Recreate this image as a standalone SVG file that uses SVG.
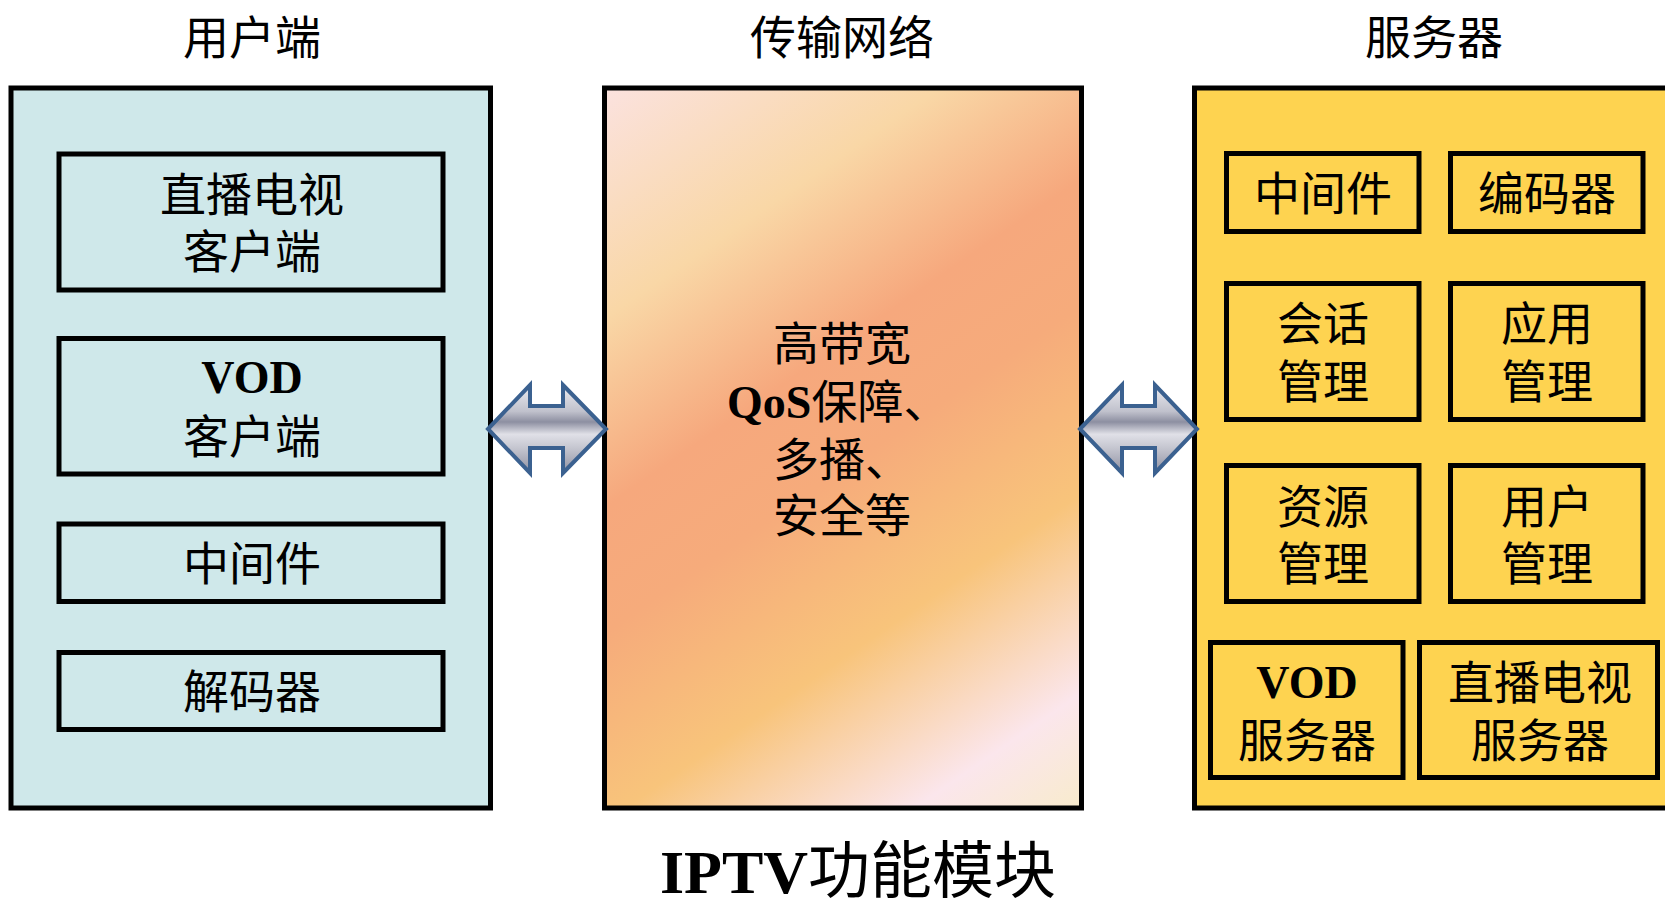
<svg xmlns="http://www.w3.org/2000/svg" width="1665" height="907" viewBox="0 0 1665 907">
  <style>
    .t { font-family: "Liberation Serif", "Noto Sans CJK SC", serif; font-size: 46px; fill: #000; text-anchor: middle; }
    .b { font-weight: bold; }
    .panel { stroke: #000; stroke-width: 5; }
    .box { stroke: #000; stroke-width: 5; }
    .cyan { fill: #cfe8ea; }
    .yellow { fill: #fed350; }
    .arrow { fill: url(#steel); stroke: #3b6190; stroke-width: 4; stroke-linejoin: miter; }
  </style>
  <defs>
    <linearGradient id="net" gradientUnits="userSpaceOnUse" x1="235" y1="342" x2="725" y2="1054">
      <stop offset="0" stop-color="#fbe2df"/>
      <stop offset="0.22" stop-color="#f9d7a6"/>
      <stop offset="0.40" stop-color="#f6a87d"/>
      <stop offset="0.52" stop-color="#f6ab7b"/>
      <stop offset="0.70" stop-color="#f8c47b"/>
      <stop offset="0.89" stop-color="#fbe6ec"/>
      <stop offset="1" stop-color="#f8ebcc"/>
    </linearGradient>
    <linearGradient id="steel" x1="0" y1="0" x2="0" y2="1">
      <stop offset="0" stop-color="#ececf1"/>
      <stop offset="0.3" stop-color="#c0c1cc"/>
      <stop offset="0.42" stop-color="#8d8fa1"/>
      <stop offset="0.56" stop-color="#e0e0e7"/>
      <stop offset="0.72" stop-color="#c4c5cf"/>
      <stop offset="1" stop-color="#8e90a1"/>
    </linearGradient>
  </defs>

  <rect width="1665" height="907" fill="#fff"/>

  <!-- Titles -->
  <g id="titles">
    <text class="t" x="252" y="54">用户端</text>
    <text class="t" x="842" y="54">传输网络</text>
    <text class="t" x="1434" y="54">服务器</text>
  </g>

  <!-- Client panel -->
  <g id="client">
    <rect class="panel cyan" x="11" y="88" width="479.5" height="720"/>
    <g id="client-live">
      <rect class="box cyan" x="59" y="154" width="384" height="136"/>
      <text class="t" x="252" y="211">直播电视</text>
      <text class="t" x="252" y="268">客户端</text>
    </g>
    <g id="client-vod">
      <rect class="box cyan" x="59" y="338.5" width="384" height="135.5"/>
      <text class="t b" x="252" y="393">VOD</text>
      <text class="t" x="252" y="453">客户端</text>
    </g>
    <g id="client-mw">
      <rect class="box cyan" x="59" y="524" width="384" height="77.5"/>
      <text class="t" x="252" y="580">中间件</text>
    </g>
    <g id="client-dec">
      <rect class="box cyan" x="59" y="652.5" width="384" height="77"/>
      <text class="t" x="252" y="708">解码器</text>
    </g>
  </g>

  <!-- Network panel -->
  <g id="network">
    <rect class="panel" fill="url(#net)" x="604.5" y="88" width="477" height="720"/>
    <text class="t" style="text-anchor:start" x="773" y="360">高带宽</text>
    <text class="t" style="text-anchor:start" x="727" y="418"><tspan class="b">QoS</tspan>保障、</text>
    <text class="t" style="text-anchor:start" x="773" y="476">多播、</text>
    <text class="t" style="text-anchor:start" x="773" y="532">安全等</text>
  </g>

  <!-- Server panel -->
  <g id="server">
    <rect class="panel yellow" x="1194.5" y="88" width="490" height="720"/>
    <g id="srv-mw">
      <rect class="box yellow" x="1226.5" y="153.5" width="192.5" height="78"/>
      <text class="t" x="1323" y="210">中间件</text>
    </g>
    <g id="srv-enc">
      <rect class="box yellow" x="1450.5" y="153.5" width="192.5" height="78"/>
      <text class="t" x="1547" y="210">编码器</text>
    </g>
    <g id="srv-session">
      <rect class="box yellow" x="1226.5" y="283.5" width="192.5" height="136"/>
      <text class="t" x="1323" y="340">会话</text>
      <text class="t" x="1323" y="398">管理</text>
    </g>
    <g id="srv-app">
      <rect class="box yellow" x="1450.5" y="283.5" width="192.5" height="136"/>
      <text class="t" x="1547" y="340">应用</text>
      <text class="t" x="1547" y="398">管理</text>
    </g>
    <g id="srv-res">
      <rect class="box yellow" x="1226.5" y="465.5" width="192.5" height="136"/>
      <text class="t" x="1323" y="523">资源</text>
      <text class="t" x="1323" y="580">管理</text>
    </g>
    <g id="srv-user">
      <rect class="box yellow" x="1450.5" y="465.5" width="192.5" height="136"/>
      <text class="t" x="1547" y="523">用户</text>
      <text class="t" x="1547" y="580">管理</text>
    </g>
    <g id="srv-vod">
      <rect class="box yellow" x="1210.5" y="642.5" width="192.5" height="135"/>
      <text class="t b" x="1307" y="698">VOD</text>
      <text class="t" x="1307" y="757">服务器</text>
    </g>
    <g id="srv-live">
      <rect class="box yellow" x="1419.5" y="642.5" width="238" height="135"/>
      <text class="t" x="1540" y="699">直播电视</text>
      <text class="t" x="1540" y="757">服务器</text>
    </g>
  </g>

  <!-- Connectors -->
  <g id="connectors">
    <polygon class="arrow" points="488,429 530,385 530,406 563,406 563,385 606,429 563,473 563,448 530,448 530,473"/>
    <polygon class="arrow" points="1080,429 1122,385 1122,406 1155,406 1155,385 1197,429 1155,473 1155,448 1122,448 1122,473"/>
  </g>

  <!-- Caption -->
  <g id="caption">
    <text class="t" style="font-size:62px" x="858" y="893"><tspan class="b">IPTV</tspan>功能模块</text>
  </g>
</svg>
